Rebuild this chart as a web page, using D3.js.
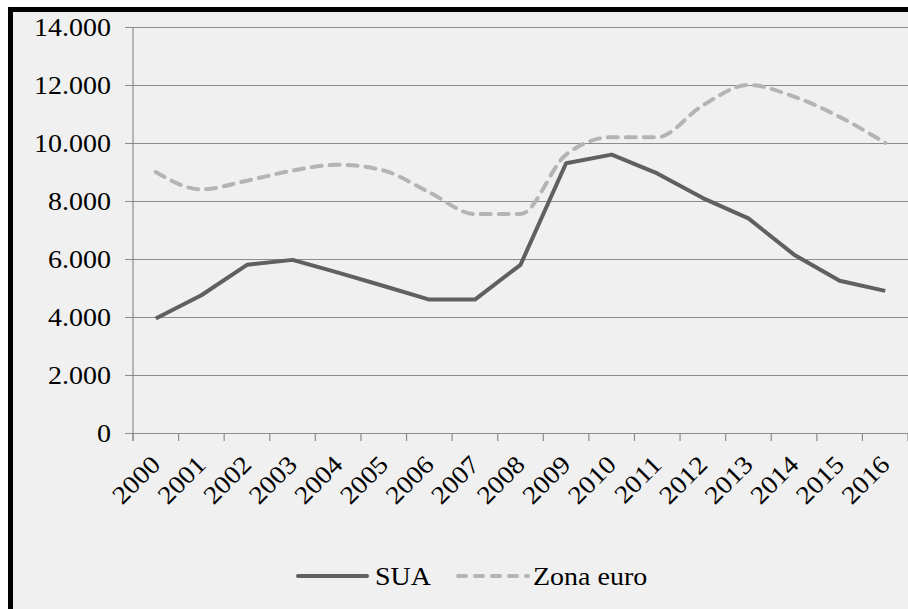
<!DOCTYPE html>
<html>
<head>
<meta charset="utf-8">
<script src="https://cdn.jsdelivr.net/npm/d3@7"></script>
</head>
<body style="margin:0">
<svg id="chart" width="908" height="609"></svg>
<script>
// ---- data ----
const years = ["2000","2001","2002","2003","2004","2005","2006","2007","2008",
               "2009","2010","2011","2012","2013","2014","2015","2016"];
const sua = [3950, 4750, 5800, 5970, 5530, 5070, 4600, 4600, 5800,
             9300, 9600, 8950, 8100, 7400, 6150, 5250, 4900];
const zonaEuro = [9000, 8400, 8700, 9050, 9250, 9050, 8300, 7550, 7550,
                  9600, 10200, 10200, 11300, 12000, 11600, 10900, 10000];
const yTicks = [0, 2000, 4000, 6000, 8000, 10000, 12000, 14000];
const seriesNames = ["SUA", "Zona euro"];

// ---- layout ----
const W = 908, H = 609;
const plot = { left: 133, right: 908, top: 27, bottom: 433 };
const svg = d3.select("#chart");
const serif = sel => sel.style("font-family", '"Liberation Serif"').attr("font-size", 28).attr("fill", "#000");
const SQ = "scale(1,0.9)";

// frame background + black border (left and top)
svg.append("rect").attr("x", 8).attr("y", 7).attr("width", W - 8).attr("height", H - 7).attr("fill", "#f0f0f0");
svg.append("rect").attr("x", 8).attr("y", 7).attr("width", W - 8).attr("height", 5).attr("fill", "#000");
svg.append("rect").attr("x", 8).attr("y", 7).attr("width", 5).attr("height", H - 7).attr("fill", "#000");

const x = d3.scaleBand().domain(years).range([plot.left, plot.right]).padding(0);
const y = d3.scaleLinear().domain([0, 14000]).range([plot.bottom, plot.top]);

const loc = d3.formatLocale({ decimal: ",", thousands: ".", grouping: [3], currency: ["", ""] });
const fmt = loc.format(",d");

// y gridlines + ticks
const yAxis = d3.axisLeft(y).tickValues(yTicks).tickFormat("").tickSize(-(plot.right - plot.left));
const yg = svg.append("g").attr("transform", `translate(${plot.left},0)`).call(yAxis);
yg.select(".domain").remove();
yg.selectAll(".tick text").remove();
yg.selectAll(".tick line").attr("stroke", "#8c8c8c").attr("stroke-width", 1.2).attr("x1", -8);

// y labels
svg.selectAll("text.ylab").data(yTicks).join("text").attr("class", "ylab")
  .attr("transform", d => `translate(${plot.left - 22},${y(d)}) ${SQ}`)
  .attr("dy", "0.34em")
  .attr("text-anchor", "end").call(serif).text(d => fmt(d));

// y axis line
svg.append("line").attr("x1", plot.left).attr("x2", plot.left)
  .attr("y1", plot.top).attr("y2", plot.bottom + 8)
  .attr("stroke", "#8c8c8c").attr("stroke-width", 1.2);

// x axis: ticks at category boundaries
const boundaries = years.map(d => x(d)).concat([x(years[years.length - 1]) + x.bandwidth()]);
svg.selectAll("line.xt").data(boundaries).join("line").attr("class", "xt")
  .attr("x1", d => d).attr("x2", d => d)
  .attr("y1", plot.bottom).attr("y2", plot.bottom + 8)
  .attr("stroke", "#8c8c8c").attr("stroke-width", 1.2);

// x labels rotated
svg.selectAll("text.xlab").data(years).join("text").attr("class", "xlab")
  .attr("transform", d => `translate(${x(d) + x.bandwidth() / 2 + 6},${466}) rotate(-45) ${SQ}`)
  .attr("text-anchor", "end")
  .call(serif)
  .text(d => d);

// lines
const cx = d => x(d) + x.bandwidth() / 2;
const lineSua = d3.line().x((d, i) => cx(years[i])).y(d => y(d)).curve(d3.curveLinear);
const lineEuro = d3.line().x((d, i) => cx(years[i])).y(d => y(d)).curve(d3.curveMonotoneX);

svg.append("path").datum(zonaEuro).attr("d", lineEuro)
  .attr("fill", "none").attr("stroke", "#b4b4b4").attr("stroke-width", 4)
  .attr("stroke-dasharray", "10,8").attr("stroke-linecap", "round");

svg.append("path").datum(sua).attr("d", lineSua)
  .attr("fill", "none").attr("stroke", "#606060").attr("stroke-width", 4)
  .attr("stroke-linejoin", "round");

// legend
svg.append("line").attr("x1", 298).attr("x2", 367).attr("y1", 576).attr("y2", 576)
  .attr("stroke", "#606060").attr("stroke-width", 4).attr("stroke-linecap", "round");
svg.append("text").attr("transform", `translate(375,585) ${SQ}`).call(serif).text(seriesNames[0]);
svg.append("line").attr("x1", 458).attr("x2", 528).attr("y1", 576).attr("y2", 576)
  .attr("stroke", "#b4b4b4").attr("stroke-width", 4)
  .attr("stroke-dasharray", "8,9").attr("stroke-linecap", "round");
svg.append("text").attr("transform", `translate(533,585) ${SQ}`).call(serif).text(seriesNames[1]);
</script>
</body>
</html>
